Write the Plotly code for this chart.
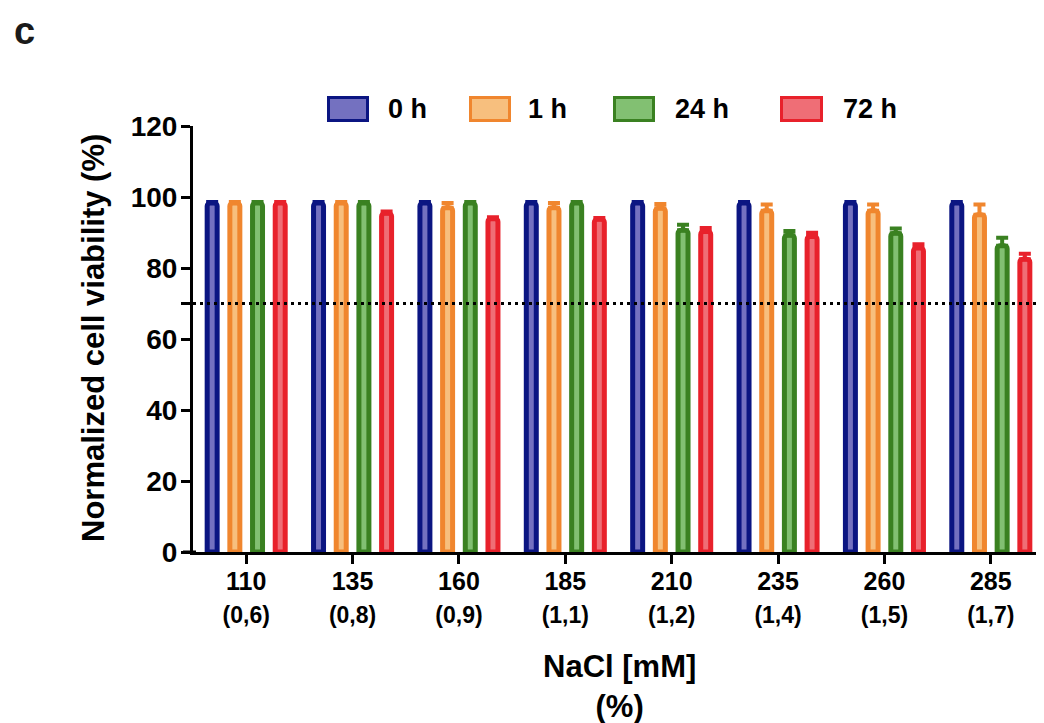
import plotly.graph_objects as go

# ---- data ----
nacl_mm = ["110", "135", "160", "185", "210", "235", "260", "285"]
nacl_pct = ["(0,6)", "(0,8)", "(0,9)", "(1,1)", "(1,2)", "(1,4)", "(1,5)", "(1,7)"]
series_names = ["0 h", "1 h", "24 h", "72 h"]

mean_0h = [98.3, 98.3, 98.3, 98.3, 98.3, 98.3, 98.3, 98.3]
mean_1h = [98.3, 98.3, 97.0, 97.0, 96.8, 96.1, 96.1, 95.0]
mean_24h = [98.3, 98.3, 98.3, 98.3, 90.6, 89.2, 89.8, 86.3]
mean_72h = [98.3, 95.4, 93.9, 93.7, 90.3, 88.9, 85.6, 82.5]

sd_0h = [0.3, 0.3, 0.3, 0.3, 0.3, 0.3, 0.3, 0.3]
sd_1h = [0.3, 0.3, 1.3, 1.3, 1.2, 1.8, 1.8, 2.9]
sd_24h = [0.3, 0.3, 0.3, 0.3, 1.6, 1.2, 1.3, 2.2]
sd_72h = [0.3, 0.5, 0.4, 0.4, 1.0, 1.0, 1.1, 1.5]

threshold = 70
y_ticks = [0, 20, 40, 60, 70, 80, 100, 120]
y_ticktext = ["0", "20", "40", "60", "", "80", "100", "120"]

# ---- styles ----
outline_colors = ["#0b1582", "#f0862e", "#3a8121", "#e8212b"]
fill_colors = ["#7471c0", "#f7bf7e", "#82c072", "#ef6e76"]

means = [mean_0h, mean_1h, mean_24h, mean_72h]
sds = [sd_0h, sd_1h, sd_24h, sd_72h]

FONT = "Liberation Sans, Arial, sans-serif"
OFF = 8  # page body margin offset
W, H = 1044 - OFF, 723 - OFF
L, R, T, B = 193 - OFF, 1044 - OFF, 126 - OFF, 552 - OFF


def px_x(px):
    return (px - OFF - L) / (R - L)


def px_y(py):
    return (B - (py - OFF)) / (B - T)


fig = go.Figure()
for name, m, s, oc, fc in zip(series_names, means, sds, outline_colors, fill_colors):
    fig.add_trace(go.Bar(
        x=nacl_mm, y=m, name=name, showlegend=False,
        marker=dict(color=fc, line=dict(color=oc, width=5), cornerradius=3),
        error_y=dict(type="data", array=s, arrayminus=[0] * len(s), symmetric=False,
                     color=oc, thickness=4, width=6),
    ))

ticktext_x = [f"{a}<br><span style='font-size:23px'>{b}</span>" for a, b in zip(nacl_mm, nacl_pct)]

fig.update_layout(
    width=W, height=H,
    margin=dict(l=L, r=W - R, t=T, b=H - B),
    paper_bgcolor="white", plot_bgcolor="white",
    barmode="group", bargap=0.147, bargroupgap=0.56,
    font=dict(family=FONT, color="black"),
    xaxis=dict(
        type="category", range=[-0.5, 7.5],
        tickmode="array", tickvals=nacl_mm, ticktext=ticktext_x,
        tickfont=dict(size=25, family=FONT, color="black", weight="bold"),
        showline=True, linewidth=3, linecolor="black",
        ticks="outside", ticklen=9, tickwidth=3, tickcolor="black",
        ticklabelstandoff=-4,
        showgrid=False, zeroline=False,
    ),
    yaxis=dict(
        range=[0, 120], tickmode="array", tickvals=y_ticks, ticktext=y_ticktext,
        tickfont=dict(size=28, family=FONT, color="black", weight="bold"),
        showline=True, linewidth=3, linecolor="black",
        ticks="outside", ticklen=9, tickwidth=3, tickcolor="black",
        ticklabelstandoff=-2,
        showgrid=False, zeroline=False,
    ),
)

# threshold dotted line
fig.add_shape(type="line", xref="paper", yref="y", x0=0, x1=1, y0=threshold, y1=threshold,
              line=dict(color="black", width=3, dash="3px,4px"), layer="above")
# x axis line extension to the left
fig.add_shape(type="line", xref="paper", yref="paper", x0=px_x(183), x1=px_x(196), y0=0, y1=0,
              line=dict(color="black", width=3), layer="above")

annotations = []
# legend drawn manually
legend_boxes = [(327, 369), (469, 511), (613, 655), (780, 823)]
legend_text_x = [386, 526, 673, 841]
for (x0, x1), tx, name, oc, fc in zip(legend_boxes, legend_text_x, series_names, outline_colors, fill_colors):
    fig.add_shape(type="rect", xref="paper", yref="paper",
                  x0=px_x(x0 + 1.5), x1=px_x(x1 - 1.5), y0=px_y(97.5), y1=px_y(120.5),
                  line=dict(color=oc, width=3), fillcolor=fc)
    annotations.append(dict(text=name, x=px_x(tx), y=px_y(109), xref="paper", yref="paper",
                            xanchor="left", yanchor="middle", showarrow=False,
                            font=dict(size=27, family=FONT, color="black", weight="bold")))

annotations.append(dict(text="Normalized cell viability (%)", x=px_x(93), y=px_y(338),
                        xref="paper", yref="paper", textangle=-90, showarrow=False,
                        xanchor="center", yanchor="middle",
                        font=dict(size=31, family=FONT, color="black", weight="bold")))
annotations.append(dict(text="NaCl [mM]<br>(%)", x=px_x(619), y=px_y(686),
                        xref="paper", yref="paper", showarrow=False,
                        xanchor="center", yanchor="middle",
                        font=dict(size=31, family=FONT, color="black", weight="bold")))
annotations.append(dict(text="c", x=px_x(12), y=px_y(31), xref="paper", yref="paper",
                        showarrow=False, xanchor="left", yanchor="middle",
                        font=dict(size=38, family=FONT, color="#1a1a1a", weight="bold")))
fig.update_layout(annotations=annotations)

fig.write_html("out.html")
